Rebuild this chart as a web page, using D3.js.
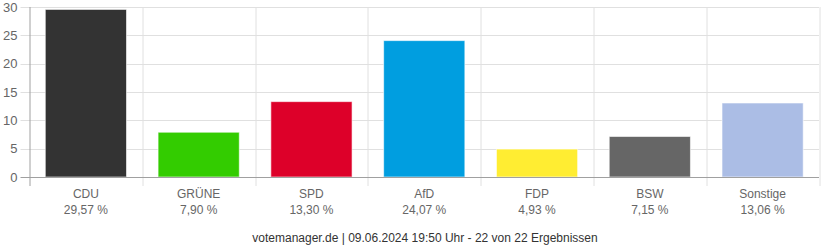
<!DOCTYPE html>
<html>
<head>
<meta charset="utf-8">
<script src="https://cdn.jsdelivr.net/npm/d3@7"></script>
<style>
  body { margin: 0; background: #fff; }
  svg { display: block; font-family: "Liberation Sans", Arial, sans-serif; }
</style>
</head>
<body>
<svg id="chart" width="822" height="250"></svg>
<script>
// Party names, result shares and bar colours
const parties = ['CDU', 'GRÜNE', 'SPD', 'AfD', 'FDP', 'BSW', 'Sonstige'];
const shares = [29.57, 7.90, 13.30, 24.07, 4.93, 7.15, 13.06];
const partyColors = ['#333333', '#33cc00', '#dd0029', '#009ee0', '#ffed32', '#666666', '#abbde5'];
const yTicks = [0, 5, 10, 15, 20, 25, 30];
const footer = 'votemanager.de | 09.06.2024 19:50 Uhr - 22 von 22 Ergebnissen';

const margin = { top: 7, right: 3, bottom: 73, left: 29.5 };
const width = 822 - margin.left - margin.right;
const height = 250 - margin.top - margin.bottom;

const data = parties.map((p, i) => ({ party: p, value: shares[i], color: partyColors[i] }));

const svg = d3.select('#chart');
const g = svg.append('g')
    .attr('transform', `translate(${margin.left},${margin.top})`);

// Scales
const x = d3.scaleBand()
    .domain(parties)
    .range([0, width])
    .paddingInner(0.28)
    .paddingOuter(0.14);

const y = d3.scaleLinear()
    .domain([0, 30])
    .range([height, 0]);

const step = x.step();
const edge = d => x(d) - x.paddingOuter() * step;

// Horizontal grid lines (with small tick stubs to the left)
g.selectAll('.hgrid')
    .data(yTicks.slice(1))
    .enter()
    .append('line')
    .attr('x1', -9)
    .attr('x2', width)
    .attr('y1', d => Math.round(y(d)) + 0.5)
    .attr('y2', d => Math.round(y(d)) + 0.5)
    .attr('stroke', '#e0e0e0');

// Vertical grid lines between categories, extending below the axis
const bounds = parties.map(edge).concat([width]);
g.selectAll('.vgrid')
    .data(bounds.slice(1))
    .enter()
    .append('line')
    .attr('x1', d => Math.round(d) + 0.5)
    .attr('x2', d => Math.round(d) + 0.5)
    .attr('y1', 0)
    .attr('y2', height + 9)
    .attr('stroke', '#e0e0e0');

// Bars
g.selectAll('.bar')
    .data(data)
    .enter()
    .append('rect')
    .attr('x', d => x(d.party))
    .attr('y', d => y(d.value))
    .attr('width', x.bandwidth())
    .attr('height', d => height - y(d.value))
    .attr('fill', d => d.color)
    .attr('stroke', 'rgba(255,255,255,0.6)')
    .attr('stroke-width', 1);

// Left axis line
g.append('line')
    .attr('x1', 0.5).attr('x2', 0.5)
    .attr('y1', 0).attr('y2', height + 9)
    .attr('stroke', '#a0a0a0');

// Zero line and its tick stub
g.append('line')
    .attr('x1', -9).attr('x2', width)
    .attr('y1', Math.round(y(0)) + 0.5).attr('y2', Math.round(y(0)) + 0.5)
    .attr('stroke', '#a0a0a0');

// Y tick labels
g.selectAll('.ylabel')
    .data(yTicks)
    .enter()
    .append('text')
    .attr('x', -12)
    .attr('y', d => y(d))
    .attr('dy', '0.35em')
    .attr('text-anchor', 'end')
    .attr('fill', '#666666')
    .style('font-size', '13px')
    .text(d => d);

// Category labels with percentages
const labels = g.selectAll('.xlabel')
    .data(data)
    .enter()
    .append('text')
    .attr('text-anchor', 'middle')
    .attr('fill', '#666666')
    .style('font-size', '12px');

labels.append('tspan')
    .attr('x', d => x(d.party) + x.bandwidth() / 2)
    .attr('y', height + 20.5)
    .text(d => d.party);

labels.append('tspan')
    .attr('x', d => x(d.party) + x.bandwidth() / 2)
    .attr('y', height + 36.5)
    .text(d => d3.format('.2f')(d.value).replace('.', ',') + ' %');

// Footer
svg.append('text')
    .attr('x', 425)
    .attr('y', 242)
    .attr('text-anchor', 'middle')
    .attr('fill', '#333333')
    .style('font-size', '12px')
    .text(footer);
</script>
</body>
</html>
